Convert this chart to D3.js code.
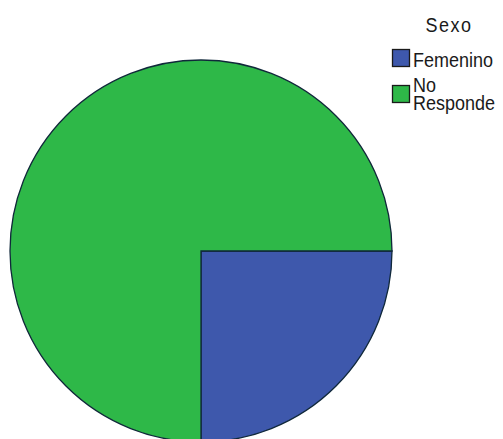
<!DOCTYPE html>
<html><head><meta charset="utf-8">
<script src="https://cdn.jsdelivr.net/npm/d3@7"></script>
<style>html,body{margin:0;padding:0;background:#fff;overflow:hidden}</style>
</head><body>
<svg id="c" width="503" height="439"></svg>
<script>
const legendTitle = "Sexo";
const categories = ["Femenino", "No Responde"];
const values = [25, 75];
const colors = ["#3e58ac", "#2eb848"];

const svg = d3.select("#c");
const cx = 201, cy = 251, r = 191;
const pie = d3.pie().sort(null).startAngle(Math.PI/2).endAngle(Math.PI*2.5);
const arc = d3.arc().innerRadius(0).outerRadius(r);
const color = d3.scaleOrdinal().domain(categories).range(colors);
const data = categories.map((c,i)=>({cat:c, v:values[i]}));
svg.append("g").attr("transform",`translate(${cx},${cy})`)
  .selectAll("path").data(pie.value(d=>d.v)(data)).join("path")
  .attr("d", arc).attr("fill", d=>color(d.data.cat))
  .attr("stroke","#10283a").attr("stroke-width",1.3).attr("stroke-linejoin","miter");

const font = "Arial, 'Liberation Sans', sans-serif";
const sy = 1.13;
function label(x, y, lines, size, anchor, ls, lh) {
  const t = svg.append("text").attr("transform",`translate(${x},${y}) scale(1,${sy})`)
    .attr("text-anchor",anchor||"start").attr("font-family",font).attr("font-size",size)
    .attr("letter-spacing", ls||0).attr("fill","#1a1a1a");
  lines.forEach((ln,i)=> t.append("tspan").attr("x",0).attr("y", i*(lh||0)/sy).text(ln));
}
label(449, 32, [legendTitle], 18, "middle", 1.5);
const rowsY = [49, 85];
categories.forEach((c,i)=>{
  svg.append("rect").attr("x",392.5).attr("y",rowsY[i]+0.5).attr("width",17).attr("height",17)
    .attr("fill",color(c)).attr("stroke","#1a1a1a").attr("stroke-width",1.3);
  const words = c.split(" ");
  if (words.length === 1) {
    label(413, 67, [c], 18);
  } else {
    label(413, 92, [words[0], words.slice(1).join(" ")], 18, "start", 0, 18);
  }
});
</script>
</body></html>
